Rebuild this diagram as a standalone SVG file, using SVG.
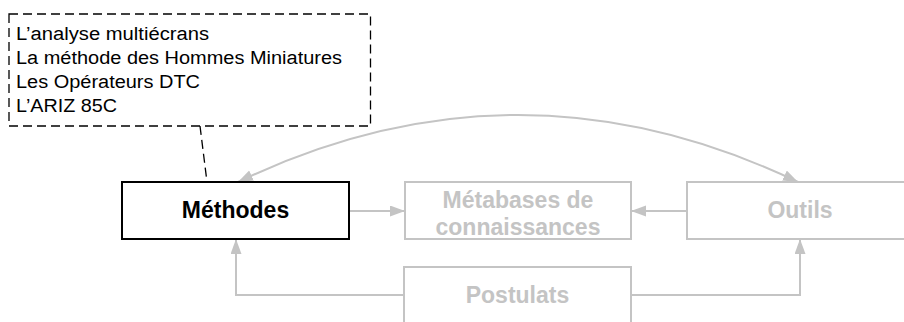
<svg xmlns="http://www.w3.org/2000/svg" width="904" height="322" viewBox="0 0 904 322">
<style>
.note{font-family:"Liberation Sans",Arial,sans-serif;font-size:18px;fill:#000}
.lbl{font-family:"Liberation Sans",Arial,sans-serif;font-size:23px;font-weight:bold;text-anchor:middle}
.gbox{fill:#fff;stroke:#c4c4c4;stroke-width:2}
.gtxt{fill:#c4c4c4}
.con{fill:none;stroke:#c4c4c4;stroke-width:2}
</style>
<defs>
<marker id="ah" markerUnits="userSpaceOnUse" markerWidth="16" markerHeight="12" refX="15" refY="5.5" orient="auto-start-reverse">
<path d="M0,0 L15,5.5 L0,11 z" fill="#c4c4c4"/>
</marker>
</defs>
<rect width="904" height="322" fill="#fff"/>
<g id="connectors">
<path class="con" d="M238,182 Q518,48 798,182" marker-start="url(#ah)" marker-end="url(#ah)"/>
<path class="con" d="M349,211 L405,211" marker-end="url(#ah)"/>
<path class="con" d="M687,211 L631,211" marker-end="url(#ah)"/>
<path class="con" d="M404,295 L236,295 L236,239" marker-end="url(#ah)"/>
<path class="con" d="M631,295 L800,295 L800,239" marker-end="url(#ah)"/>
<path d="M200,126 L207,182" fill="none" stroke="#000" stroke-width="1.3" stroke-dasharray="9,5"/>
</g>
<g id="note">
<rect x="9" y="14" width="361.5" height="112" fill="#fff" stroke="#000" stroke-width="1.3" stroke-dasharray="9,5"/>
<text class="note" x="16" y="40.3" textLength="193" lengthAdjust="spacingAndGlyphs">L’analyse multiécrans</text>
<text class="note" x="16" y="64" textLength="326" lengthAdjust="spacingAndGlyphs">La méthode des Hommes Miniatures</text>
<text class="note" x="16" y="87.8" textLength="184" lengthAdjust="spacingAndGlyphs">Les Opérateurs DTC</text>
<text class="note" x="16" y="111.6" textLength="101" lengthAdjust="spacingAndGlyphs">L’ARIZ 85C</text>
</g>
<g id="methodes">
<rect x="122" y="182" width="227" height="57" fill="#fff" stroke="#000" stroke-width="2"/>
<text class="lbl" x="235.5" y="218" fill="#000">Méthodes</text>
</g>
<g id="metabases">
<rect class="gbox" x="405" y="182" width="226" height="57"/>
<text class="lbl gtxt" x="518" y="208">Métabases de</text>
<text class="lbl gtxt" x="518" y="234.5">connaissances</text>
</g>
<g id="outils">
<rect class="gbox" x="687" y="182" width="227" height="57"/>
<text class="lbl gtxt" x="800" y="218">Outils</text>
</g>
<g id="postulats">
<rect class="gbox" x="404" y="267" width="227" height="57"/>
<text class="lbl gtxt" x="517.5" y="303">Postulats</text>
</g>
</svg>
